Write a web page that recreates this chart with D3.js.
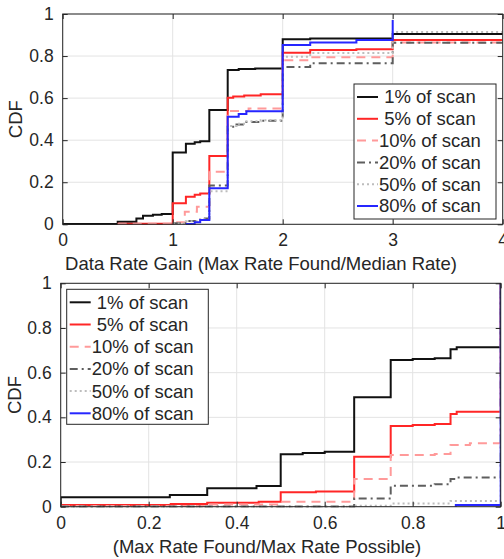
<!DOCTYPE html>
<html><head><meta charset="utf-8">
<script src="https://cdn.jsdelivr.net/npm/d3@7"></script>
<style>
body{margin:0;background:#fff}
svg{display:block}
text{font-family:'Liberation Sans',Arial,Helvetica,sans-serif;fill:#262626}
</style>
</head><body><svg id="c" width="504" height="559"></svg>
<script>
// ---------- data ----------
const seriesLabels = ["\u00a01% of scan", "\u00a05% of scan", "10% of scan", "20% of scan", "50% of scan", "80% of scan"];
const topXTicks = [0, 1, 2, 3, 4];
const bottomXTicks = [0, 0.2, 0.4, 0.6, 0.8, 1];
const yTicks = [0, 0.2, 0.4, 0.6, 0.8, 1];
const topXLabel = "Data Rate Gain (Max Rate Found/Median Rate)";
const bottomXLabel = "(Max Rate Found/Max Rate Possible)";
const yLabel = "CDF";

// Top chart: step points [x, cdf] (value holds from x to next x)
const gainScan1  = [[0,0.002],[0.5,0.012],[0.67,0.028],[0.73,0.041],[0.82,0.045],[0.9,0.049],[1,0.342],[1.12,0.383],[1.2,0.39],[1.25,0.395],[1.333,0.543],[1.5,0.734],[1.6,0.738],[1.75,0.741],[2,0.88],[2.25,0.884],[3,0.905],[4,0.905]];
const gainScan5  = [[0.5,0.003],[1,0.1],[1.12,0.131],[1.2,0.14],[1.25,0.147],[1.333,0.325],[1.5,0.602],[1.55,0.608],[1.65,0.613],[1.8,0.618],[2,0.816],[2.25,0.829],[2.67,0.832],[3,0.876],[4,0.876]];
const gainScan10 = [[0.5,0.003],[1,0.01],[1.11,0.06],[1.22,0.084],[1.333,0.25],[1.5,0.539],[1.69,0.551],[2,0.78],[2.25,0.794],[3,0.864],[4,0.864]];
const gainScan20 = [[1,0.005],[1.12,0.016],[1.25,0.028],[1.333,0.185],[1.5,0.464],[1.58,0.475],[1.67,0.487],[1.8,0.492],[2,0.748],[2.25,0.766],[3,0.863],[4,0.863]];
const gainScan50 = [[1,0.004],[1.12,0.014],[1.25,0.024],[1.333,0.157],[1.5,0.468],[1.58,0.478],[1.67,0.49],[1.8,0.495],[2,0.797],[2.25,0.814],[3,0.915],[4,0.915]];
const gainScan80 = [[1.12,0.002],[1.2,0.01],[1.25,0.02],[1.333,0.171],[1.5,0.512],[1.6,0.524],[1.67,0.537],[2,0.853],[2.25,0.865],[2.67,0.876],[3,0.971]];

// Bottom chart: step points [x, cdf]
const fracScan1  = [[0,0],[0,0.042],[0.248,0.052],[0.333,0.083],[0.445,0.093],[0.5,0.235],[0.55,0.24],[0.6,0.246],[0.667,0.49],[0.75,0.657],[0.8,0.661],[0.85,0.665],[0.886,0.705],[0.9,0.714],[1,1]];
const fracScan5  = [[0,0.008],[0.25,0.012],[0.333,0.018],[0.45,0.022],[0.5,0.065],[0.58,0.068],[0.667,0.224],[0.75,0.361],[0.8,0.366],[0.85,0.37],[0.886,0.415],[0.9,0.425],[1,1]];
const fracScan10 = [[0,0.003],[0.333,0.01],[0.5,0.022],[0.667,0.124],[0.75,0.231],[0.85,0.236],[0.886,0.276],[0.93,0.284],[1,1]];
const fracScan20 = [[0,0.001],[0.667,0.037],[0.75,0.094],[0.85,0.1],[0.886,0.124],[0.9,0.131],[1,1]];
const fracScan50 = [[0,0.0],[0.667,0.004],[0.75,0.014],[0.886,0.026],[1,1]];
const fracScan80 = [[0.898,0.0],[0.898,0.008],[1,1]];

const seriesColors = ["#111111", "#ff2626", "#ff9a9a", "#5e5e5e", "#bdbdbd", "#2626ff"];
const seriesDashes = [null, null, "9,6", "8,4,2,4", "2,3", null];
const seriesWidths = [2, 2, 2, 2, 2, 2];

// ---------- drawing ----------
const svg = d3.select("#c");
const AX = "#262626";

function drawChart(cfg) {
  const x = d3.scaleLinear().domain(cfg.xDomain).range([cfg.left, cfg.right]);
  const y = d3.scaleLinear().domain([0, 1]).range([cfg.bottom, cfg.top]);
  const g = svg.append("g");

  // grid
  g.selectAll(".gx").data(cfg.xTicks).enter().append("line")
    .attr("x1", d => x(d)).attr("x2", d => x(d)).attr("y1", cfg.top).attr("y2", cfg.bottom)
    .attr("stroke", "#e3e3e3").attr("stroke-width", 1);
  g.selectAll(".gy").data(yTicks).enter().append("line")
    .attr("y1", d => y(d)).attr("y2", d => y(d)).attr("x1", cfg.left).attr("x2", cfg.right)
    .attr("stroke", "#e3e3e3").attr("stroke-width", 1);

  // clip
  const cid = "clip" + cfg.id;
  svg.append("clipPath").attr("id", cid).append("rect")
    .attr("x", cfg.left).attr("y", cfg.top - 1).attr("width", cfg.right - cfg.left).attr("height", cfg.bottom - cfg.top + 2);

  const line = d3.line().x(d => x(d[0])).y(d => y(d[1])).curve(d3.curveStepAfter);
  const lg = g.append("g").attr("clip-path", `url(#${cid})`);
  cfg.series.forEach((s, i) => {
    lg.append("path").attr("d", line(s)).attr("fill", "none")
      .attr("stroke", seriesColors[i]).attr("stroke-width", seriesWidths[i])
      .attr("stroke-dasharray", seriesDashes[i]).attr("stroke-linejoin", "miter");
  });

  // axes
  const fmt = d => d3.format("~g")(d);
  const xa = g.append("g").attr("transform", `translate(0,${cfg.bottom})`)
    .call(d3.axisBottom(x).tickValues(cfg.xTicks).tickFormat(fmt).tickSize(-5).tickPadding(cfg.xPad));
  const xt = g.append("g").attr("transform", `translate(0,${cfg.top})`)
    .call(d3.axisTop(x).tickValues(cfg.xTicks).tickFormat("").tickSize(-5));
  const ya = g.append("g").attr("transform", `translate(${cfg.left},0)`)
    .call(d3.axisLeft(y).tickValues(yTicks).tickFormat(fmt).tickSize(-5).tickPadding(cfg.yPad));
  const yr = g.append("g").attr("transform", `translate(${cfg.right},0)`)
    .call(d3.axisRight(y).tickValues(yTicks).tickFormat("").tickSize(-5));
  [xa, xt, ya, yr].forEach(a => {
    a.select(".domain").remove();
    a.selectAll(".tick line").attr("stroke", AX);
    a.selectAll("text").attr("fill", AX).style("font-size", "17.5px")
      .style("font-family", "'Liberation Sans',Arial,Helvetica,sans-serif");
  });
  g.append("rect").attr("x", cfg.left).attr("y", cfg.top)
    .attr("width", cfg.right - cfg.left).attr("height", cfg.bottom - cfg.top)
    .attr("fill", "none").attr("stroke", AX).attr("stroke-width", 1);

  // labels
  g.append("text").attr("x", cfg.xLabelX).attr("y", cfg.xLabelY).attr("text-anchor", "middle")
    .style("font-size", "18.5px").text(cfg.xLabel);
  g.append("text").attr("transform", `translate(${cfg.yLabelX},${(cfg.top + cfg.bottom) / 2}) rotate(-90)`)
    .attr("text-anchor", "middle").attr("dy", "0.35em").style("font-size", "18.5px").text(yLabel);

  // legend
  const L = cfg.legend;
  const leg = g.append("g");
  leg.append("rect").attr("x", L.x).attr("y", L.y).attr("width", L.w).attr("height", L.h)
    .attr("fill", "#fff").attr("stroke", AX).attr("stroke-width", 1);
  seriesLabels.forEach((lab, i) => {
    const cy = L.y + L.first + i * L.step;
    leg.append("line").attr("x1", L.x + 3).attr("x2", L.x + 24).attr("y1", cy).attr("y2", cy)
      .attr("stroke", seriesColors[i]).attr("stroke-width", seriesWidths[i])
      .attr("stroke-dasharray", seriesDashes[i]);
    leg.append("text").attr("x", L.x + 25).attr("y", cy).attr("dy", "0.35em")
      .style("font-size", "18.5px").style("white-space", "pre").text(lab);
  });
}

drawChart({
  id: "top", xDomain: [0, 4], xTicks: topXTicks,
  left: 62.7, right: 502.7, top: 14, bottom: 224.3,
  xPad: 9, yPad: 9,
  series: [gainScan1, gainScan5, gainScan10, gainScan20, gainScan50, gainScan80],
  xLabel: topXLabel, xLabelX: 261, xLabelY: 269.5, yLabelX: 16,
  legend: {x: 354, y: 84, w: 142, h: 135, first: 13, step: 21.8}
});
drawChart({
  id: "bot", xDomain: [0, 1], xTicks: bottomXTicks,
  left: 60.7, right: 500.7, top: 283.3, bottom: 506.7,
  xPad: 10, yPad: 9,
  series: [fracScan1, fracScan5, fracScan10, fracScan20, fracScan50, fracScan80],
  xLabel: bottomXLabel, xLabelX: 267, xLabelY: 552.5, yLabelX: 15,
  legend: {x: 66.7, y: 289.3, w: 141.6, h: 135, first: 13, step: 22.2}
});
</script>
</body></html>
